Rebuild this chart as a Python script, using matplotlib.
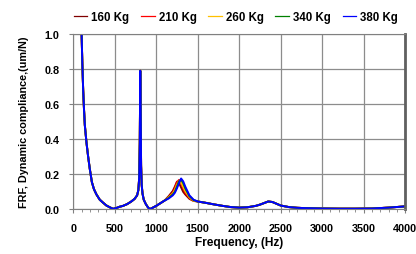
import matplotlib
matplotlib.use('Agg')
import matplotlib.pyplot as plt
import numpy as np
from matplotlib.ticker import MultipleLocator, FormatStrFormatter

plt.rcParams['font.family'] = ['Liberation Sans', 'DejaVu Sans']
plt.rcParams['font.weight'] = 'bold'

# shared low-frequency part (same for every load)
freq_low = [100, 110, 120, 130, 140, 160, 180, 200, 225, 250, 280, 320, 360, 400,
            440, 480, 520, 560, 600, 650, 700, 740, 770, 785, 795, 802, 808, 812,
            818, 825, 835, 850, 875, 900, 920, 940, 960, 1000, 1050, 1100]
frf_low = [1.02, 0.83, 0.68, 0.57, 0.48, 0.38, 0.30, 0.23, 0.155, 0.115, 0.085, 0.055,
           0.038, 0.022, 0.012, 0.003, 0.008, 0.015, 0.02, 0.03, 0.045, 0.06, 0.08,
           0.11, 0.18, 0.38, 0.79, 0.60, 0.25, 0.14, 0.09, 0.055, 0.03, 0.012, 0.002,
           0.005, 0.01, 0.02, 0.035, 0.05]

# second resonance, shifts with load
freq_mid = [1150, 1200, 1225, 1250, 1275, 1300, 1325, 1350, 1400, 1450]
frf_mid_160 = [0.075, 0.105, 0.13, 0.158, 0.15, 0.125, 0.10, 0.085, 0.06, 0.048]
frf_mid_210 = [0.07, 0.095, 0.12, 0.155, 0.168, 0.15, 0.12, 0.095, 0.065, 0.05]
frf_mid_260 = [0.068, 0.09, 0.11, 0.14, 0.16, 0.155, 0.13, 0.105, 0.07, 0.05]
frf_mid_340 = [0.065, 0.085, 0.10, 0.13, 0.16, 0.17, 0.15, 0.12, 0.075, 0.053]
frf_mid_380 = [0.062, 0.08, 0.095, 0.12, 0.15, 0.176, 0.16, 0.13, 0.08, 0.055]

# shared high-frequency part
freq_high = [1500, 1600, 1700, 1800, 1900, 2000, 2100, 2200, 2250, 2300, 2350, 2400,
             2450, 2500, 2600, 2700, 2800, 3000, 3200, 3400, 3600, 3800, 4000]
frf_high = [0.045, 0.037, 0.028, 0.02, 0.013, 0.01, 0.012, 0.02, 0.027, 0.036, 0.045,
            0.042, 0.032, 0.022, 0.013, 0.009, 0.007, 0.005, 0.004, 0.004, 0.005,
            0.01, 0.017]

labels = ['160 Kg', '210 Kg', '260 Kg', '340 Kg', '380 Kg']
colors = ['#800000', '#FF0000', '#FFC000', '#008000', '#0000FF']
mids = [frf_mid_160, frf_mid_210, frf_mid_260, frf_mid_340, frf_mid_380]

freq = freq_low + freq_mid + freq_high

fig = plt.figure(figsize=(4.16, 2.55), dpi=100)
ax = fig.add_axes([0.176, 0.175, 0.798, 0.688])

for lab, col, mid in zip(labels, colors, mids):
    ax.plot(freq, frf_low + mid + frf_high, color=col, lw=1.4, label=lab)

ax.set_xlim(0, 4000)
ax.set_ylim(0, 1.0)
ax.xaxis.set_major_locator(MultipleLocator(500))
ax.xaxis.set_minor_locator(MultipleLocator(100))
ax.yaxis.set_major_locator(MultipleLocator(0.2))
ax.yaxis.set_major_formatter(FormatStrFormatter('%.1f'))
ax.grid(True, which='major', color='#8c8c8c', lw=0.9)
ax.tick_params(axis='both', which='major', labelsize=7.8, length=3, color='#808080')
ax.tick_params(axis='x', which='minor', length=2, color='#808080')
ax.tick_params(axis='x', pad=7)
ax.tick_params(axis='y', pad=7)
for s in ['top', 'left', 'bottom']:
    ax.spines[s].set_color('#808080')
ax.spines['right'].set_color('#606060')
ax.spines['right'].set_linewidth(2)

ax.set_xlabel('Frequency, (Hz)', fontsize=8.6, fontweight='bold', labelpad=2)
ax.set_ylabel('FRF, Dynamic compliance,(um/N)', fontsize=7.8, fontweight='bold', labelpad=11)

leg = fig.legend(loc='upper center', bbox_to_anchor=(0.567, 0.995), ncol=5, frameon=False,
                 handlelength=1.2, handletextpad=0.35, columnspacing=1.0,
                 prop={'weight': 'bold', 'size': 8.3})
for ln in leg.get_lines():
    ln.set_linewidth(0.9)

fig.savefig('out.png', dpi=100)
